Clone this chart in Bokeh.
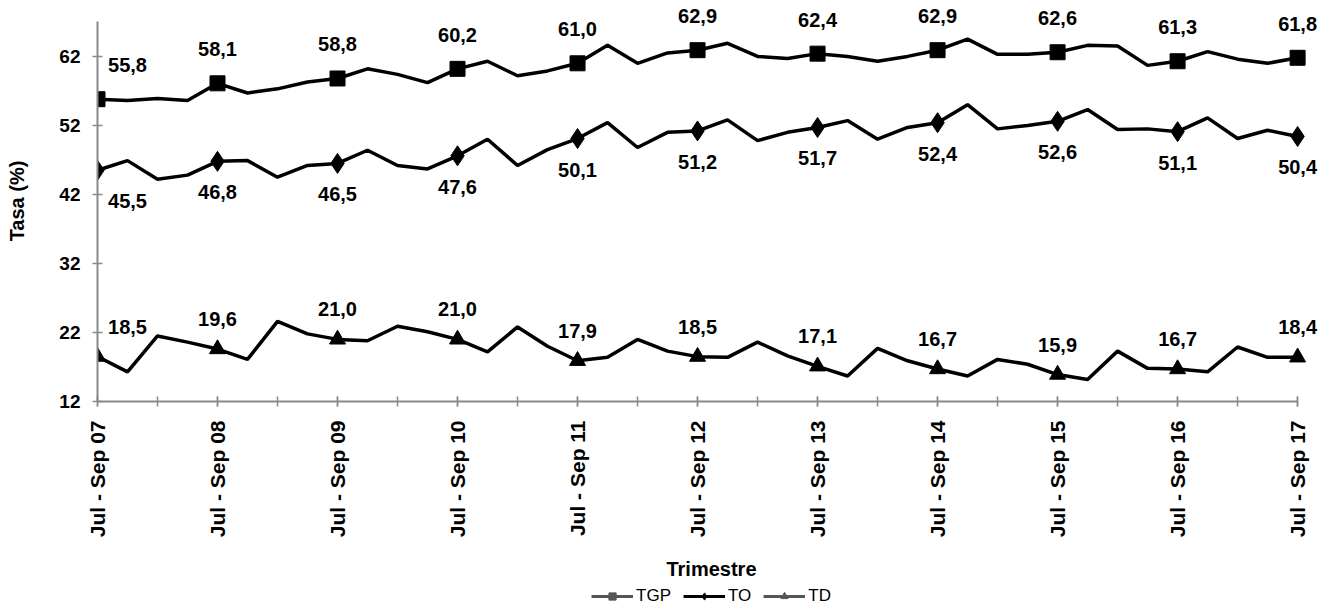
import math
from bokeh.plotting import figure
from bokeh.layouts import column
from bokeh.models import (ColumnDataSource, LabelSet, Legend, LegendItem,
                          FixedTicker, Range1d)
from bokeh.core.properties import value
from bokeh.embed import file_html
from bokeh.resources import INLINE

quarters = [
    "Jul - Sep 07", "Oct - Dic 07", "Ene - Mar 08", "Abr - Jun 08",
    "Jul - Sep 08", "Oct - Dic 08", "Ene - Mar 09", "Abr - Jun 09",
    "Jul - Sep 09", "Oct - Dic 09", "Ene - Mar 10", "Abr - Jun 10",
    "Jul - Sep 10", "Oct - Dic 10", "Ene - Mar 11", "Abr - Jun 11",
    "Jul - Sep 11", "Oct - Dic 11", "Ene - Mar 12", "Abr - Jun 12",
    "Jul - Sep 12", "Oct - Dic 12", "Ene - Mar 13", "Abr - Jun 13",
    "Jul - Sep 13", "Oct - Dic 13", "Ene - Mar 14", "Abr - Jun 14",
    "Jul - Sep 14", "Oct - Dic 14", "Ene - Mar 15", "Abr - Jun 15",
    "Jul - Sep 15", "Oct - Dic 15", "Ene - Mar 16", "Abr - Jun 16",
    "Jul - Sep 16", "Oct - Dic 16", "Ene - Mar 17", "Abr - Jun 17",
    "Jul - Sep 17",
]

tgp = [55.8, 55.6, 55.9, 55.6, 58.1, 56.7, 57.3, 58.3, 58.8, 60.2, 59.4,
       58.2, 60.2, 61.3, 59.2, 59.9, 61.0, 63.6, 61.0, 62.5, 62.9, 63.9,
       62.0, 61.7, 62.4, 62.0, 61.3, 62.0, 62.9, 64.5, 62.3, 62.3, 62.6,
       63.6, 63.5, 60.7, 61.3, 62.7, 61.6, 61.0, 61.8]
to = [45.5, 46.9, 44.2, 44.8, 46.8, 46.9, 44.5, 46.2, 46.5, 48.4, 46.2,
      45.7, 47.6, 50.0, 46.2, 48.5, 50.1, 52.4, 48.8, 51.0, 51.2, 52.8,
      49.8, 51.0, 51.7, 52.7, 50.0, 51.7, 52.4, 55.0, 51.5, 52.0, 52.6,
      54.3, 51.4, 51.5, 51.1, 53.1, 50.1, 51.3, 50.4]
td = [18.5, 16.3, 21.5, 20.6, 19.6, 18.1, 23.6, 21.8, 21.0, 20.8, 22.9,
      22.1, 21.0, 19.2, 22.8, 20.0, 17.9, 18.4, 21.0, 19.3, 18.5, 18.4,
      20.6, 18.6, 17.1, 15.7, 19.7, 17.9, 16.7, 15.7, 18.1, 17.4, 15.9,
      15.2, 19.3, 16.8, 16.7, 16.3, 19.9, 18.4, 18.4]

y_ticks = [12, 22, 32, 42, 52, 62]

FONT = "Liberation Sans"

x = list(range(len(quarters)))
mk = list(range(0, len(quarters), 4))

# frame reaches the canvas edges so the value labels are not clipped;
# the axis lines are limited with bounds
p = figure(width=1325, height=584, x_range=Range1d(0, 40.93), y_range=Range1d(12, 70.1),
           output_backend="svg", toolbar_location=None,
           min_border_left=97, min_border_right=0, min_border_top=0,
           min_border_bottom=183)
p.outline_line_color = None
p.xgrid.visible = False
p.ygrid.visible = False
p.background_fill_color = "white"
p.border_fill_color = "white"

axis_col = "#8a8a8a"
for ax in (p.xaxis[0], p.yaxis[0]):
    ax.axis_line_color = axis_col
    ax.axis_line_width = 2
    ax.major_tick_line_color = axis_col
    ax.minor_tick_line_color = axis_col
    ax.major_tick_line_width = 1.5
    ax.minor_tick_line_width = 1.5
    ax.major_tick_in = 5
    ax.major_tick_out = 5
    ax.minor_tick_in = 5
    ax.minor_tick_out = 5
    ax.major_label_text_font = FONT
    ax.major_label_text_font_style = "bold"
    ax.major_label_text_color = "black"
    ax.axis_label_text_font = FONT
    ax.axis_label_text_font_style = "bold"
    ax.axis_label_text_font_size = "20px"
    ax.axis_label_text_color = "black"

p.xaxis.bounds = (0, 40)
p.xaxis.ticker = FixedTicker(ticks=mk, minor_ticks=list(range(0, len(quarters), 2)))
p.xaxis.major_label_overrides = {i: quarters[i] for i in mk}
p.xaxis.major_label_orientation = math.pi / 2
p.xaxis.major_label_text_font_size = "21px"
p.xaxis.major_label_standoff = 14
p.xaxis.axis_label = "Trimestre"
p.xaxis.axis_label_standoff = 18

p.yaxis.bounds = (12, 67)
p.yaxis.ticker = FixedTicker(ticks=y_ticks, minor_ticks=[])
p.yaxis.major_label_text_font_size = "19px"
p.yaxis.major_label_standoff = 12
p.yaxis.axis_label = "Tasa (%)"
p.yaxis.axis_label_standoff = 28

lw = 3.5
p.line(x, tgp, line_width=lw, color="black")
p.line(x, to, line_width=lw, color="black")
p.line(x, td, line_width=lw, color="black")
p.scatter([x[i] for i in mk], [tgp[i] for i in mk], marker="square", size=15, color="black")
p.scatter([x[i] for i in mk], [to[i] for i in mk], marker="diamond", size=20, color="black")
p.scatter([x[i] for i in mk], [td[i] for i in mk], marker="triangle", size=16, color="black")


def fmt(v):
    return f"{v:.1f}".replace(".", ",")


def labels(series, yoff):
    src = ColumnDataSource(dict(
        x=[x[i] for i in mk],
        y=[series[i] for i in mk],
        t=[fmt(series[i]) for i in mk],
        xo=[30 if i == 0 else 0 for i in mk],
    ))
    return LabelSet(x="x", y="y", text="t", source=src, x_offset="xo", y_offset=yoff,
                    text_align="center", text_baseline="middle",
                    text_font=value(FONT), text_font_style="bold",
                    text_font_size="20px", text_color="black")


p.add_layout(labels(tgp, 34))
p.add_layout(labels(to, -31))
p.add_layout(labels(td, 30))

# legend strip below the chart (its renderers hold a point outside its view)
leg = figure(width=1325, height=23, x_range=Range1d(-3, -2), y_range=Range1d(-3, -2),
             output_backend="svg", toolbar_location=None,
             min_border_left=0, min_border_right=0, min_border_top=0, min_border_bottom=0)
leg.axis.visible = False
leg.xgrid.visible = False
leg.ygrid.visible = False
leg.outline_line_color = None
g1 = leg.line(x[:1], tgp[:1], line_width=3, color="#555555")
m1 = leg.scatter(x[:1], tgp[:1], marker="square", size=10, color="#555555")
g2 = leg.line(x[:1], to[:1], line_width=3, color="black")
m2 = leg.scatter(x[:1], to[:1], marker="diamond", size=12, color="black")
g3 = leg.line(x[:1], td[:1], line_width=3, color="#555555")
m3 = leg.scatter(x[:1], td[:1], marker="triangle", size=10, color="#555555")
legend = Legend(items=[LegendItem(label="TGP", renderers=[g1, m1]),
                       LegendItem(label="TO", renderers=[g2, m2]),
                       LegendItem(label="TD", renderers=[g3, m3])],
                orientation="horizontal", location="center",
                label_text_font=FONT, label_text_font_size="17px",
                label_text_color="black",
                glyph_width=42, glyph_height=18, label_standoff=3, spacing=12,
                padding=1, margin=0, border_line_color=None,
                background_fill_alpha=0)
leg.add_layout(legend)

layout = column(p, leg, spacing=0)
open("out.html", "w").write(file_html(layout, INLINE))
